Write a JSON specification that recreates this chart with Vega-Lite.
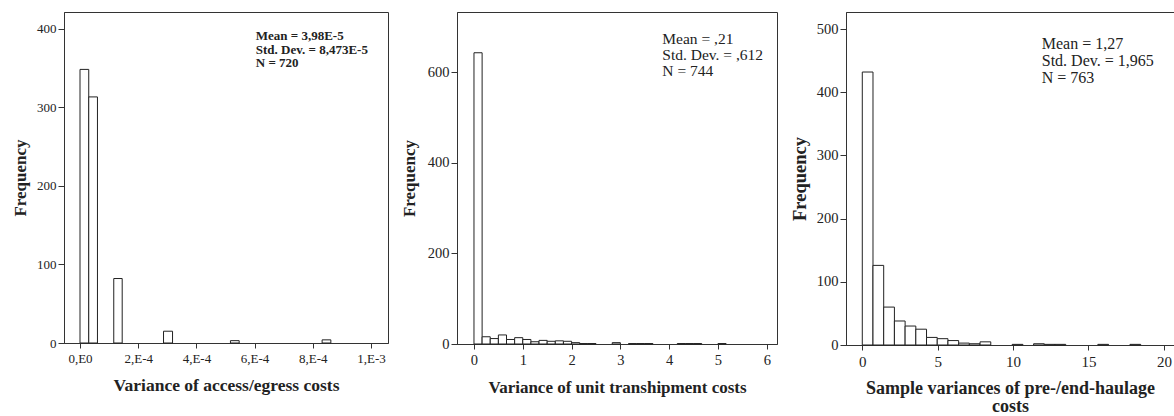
{
  "$schema": "https://vega.github.io/schema/vega-lite/v6.json",
  "padding": {"left": 11, "top": 11, "right": 0, "bottom": 0},
  "bounds": "flush",
  "spacing": 69,
  "config": {
    "font": "Liberation Serif",
    "view": {"stroke": "#333", "strokeWidth": 1},
    "axis": {
      "grid": false,
      "domainColor": "#333",
      "tickColor": "#333",
      "labelColor": "#222",
      "titleColor": "#222",
      "labelFont": "Liberation Serif",
      "titleFont": "Liberation Serif",
      "labelFontSize": 14,
      "titleFontSize": 17,
      "titleFontWeight": "bold",
      "labelPadding": 2
    },
    "axisX": {"tickSize": 5, "titlePadding": 10, "labelFlush": false, "labelPadding": 4},
    "axisY": {"tickSize": 6, "titlePadding": 7, "titleFontSize": 17}
  },
  "datasets": {
    "p1": [
      {"bin_start": 0.0, "bin_end": 0.00003, "count": 348},
      {"bin_start": 0.00003, "bin_end": 0.00006, "count": 313},
      {"bin_start": 0.000116, "bin_end": 0.000145, "count": 82},
      {"bin_start": 0.000287, "bin_end": 0.000318, "count": 15},
      {"bin_start": 0.000517, "bin_end": 0.000547, "count": 3},
      {"bin_start": 0.000832, "bin_end": 0.000862, "count": 4}
    ],
    "p2": [
      {"bin_start": 0.0, "bin_end": 0.1667, "count": 643},
      {"bin_start": 0.1667, "bin_end": 0.3333, "count": 16},
      {"bin_start": 0.3333, "bin_end": 0.5, "count": 12},
      {"bin_start": 0.5, "bin_end": 0.6667, "count": 20},
      {"bin_start": 0.6667, "bin_end": 0.8333, "count": 10},
      {"bin_start": 0.8333, "bin_end": 1.0, "count": 14},
      {"bin_start": 1.0, "bin_end": 1.1667, "count": 10},
      {"bin_start": 1.1667, "bin_end": 1.3333, "count": 5},
      {"bin_start": 1.3333, "bin_end": 1.5, "count": 8},
      {"bin_start": 1.5, "bin_end": 1.6667, "count": 6},
      {"bin_start": 1.6667, "bin_end": 1.8333, "count": 7},
      {"bin_start": 1.8333, "bin_end": 2.0, "count": 6},
      {"bin_start": 2.0, "bin_end": 2.1667, "count": 3},
      {"bin_start": 2.1667, "bin_end": 2.3333, "count": 1},
      {"bin_start": 2.3333, "bin_end": 2.5, "count": 1},
      {"bin_start": 2.8333, "bin_end": 3.0, "count": 3},
      {"bin_start": 3.1667, "bin_end": 3.3333, "count": 1},
      {"bin_start": 3.3333, "bin_end": 3.5, "count": 1},
      {"bin_start": 3.5, "bin_end": 3.6667, "count": 1},
      {"bin_start": 4.1667, "bin_end": 4.3333, "count": 1},
      {"bin_start": 4.3333, "bin_end": 4.5, "count": 1},
      {"bin_start": 4.5, "bin_end": 4.6667, "count": 1},
      {"bin_start": 5.0, "bin_end": 5.1667, "count": 1}
    ],
    "p3": [
      {"bin_start": 0.0, "bin_end": 0.71, "count": 432},
      {"bin_start": 0.71, "bin_end": 1.42, "count": 126},
      {"bin_start": 1.42, "bin_end": 2.13, "count": 60},
      {"bin_start": 2.13, "bin_end": 2.84, "count": 38},
      {"bin_start": 2.84, "bin_end": 3.55, "count": 30},
      {"bin_start": 3.55, "bin_end": 4.26, "count": 25},
      {"bin_start": 4.26, "bin_end": 4.97, "count": 12},
      {"bin_start": 4.97, "bin_end": 5.68, "count": 10},
      {"bin_start": 5.68, "bin_end": 6.39, "count": 7},
      {"bin_start": 6.39, "bin_end": 7.1, "count": 3},
      {"bin_start": 7.1, "bin_end": 7.81, "count": 2},
      {"bin_start": 7.81, "bin_end": 8.52, "count": 5},
      {"bin_start": 9.94, "bin_end": 10.65, "count": 1},
      {"bin_start": 11.36, "bin_end": 12.07, "count": 2},
      {"bin_start": 12.07, "bin_end": 12.78, "count": 1},
      {"bin_start": 12.78, "bin_end": 13.49, "count": 1},
      {"bin_start": 15.62, "bin_end": 16.33, "count": 1},
      {"bin_start": 17.75, "bin_end": 18.46, "count": 1}
    ]
  },
  "hconcat": [
    {
      "width": 324,
      "height": 331,
      "layer": [
        {
          "data": {"name": "p1"},
          "mark": {"type": "rect", "fill": "white", "stroke": "#222", "strokeWidth": 1},
          "encoding": {
            "x": {"field": "bin_start", "type": "quantitative",
              "scale": {"domain": [-0.000055, 0.0010584], "nice": false, "zero": false},
              "axis": {"title": "Variance of access/egress costs", "labelFontSize": 13, "titleFontSize": 17.5, "titlePadding": 11,
                "values": [0, 0.0002, 0.0004, 0.0006, 0.0008, 0.001],
                "labelExpr": "datum.value == 0 ? '0,E0' : (datum.value > 0.00095 ? '1,E-3' : round(datum.value * 10000) + ',E-4')"}},
            "x2": {"field": "bin_end"},
            "y": {"field": "count", "type": "quantitative",
              "scale": {"domain": [0, 421], "nice": false},
              "axis": {"title": "Frequency", "labelFontSize": 13, "values": [0, 100, 200, 300, 400]}},
            "y2": {"datum": 0}
          }
        },
        {
          "data": {"values": [{}]},
          "mark": {"type": "text", "align": "left", "baseline": "top", "fontSize": 13, "fontWeight": "bold", "lineHeight": 13.5, "color": "#222",
            "text": ["Mean = 3,98E-5", "Std. Dev. = 8,473E-5", "N = 720"]},
          "encoding": {
            "x": {"datum": 0.000604, "type": "quantitative"},
            "y": {"datum": 398, "type": "quantitative"}
          }
        }
      ]
    },
    {
      "width": 320,
      "height": 332,
      "layer": [
        {
          "data": {"name": "p2"},
          "mark": {"type": "rect", "fill": "white", "stroke": "#222", "strokeWidth": 1},
          "encoding": {
            "x": {"field": "bin_start", "type": "quantitative",
              "scale": {"domain": [-0.348, 6.21], "nice": false, "zero": false},
              "axis": {"title": "Variance of unit transhipment costs", "titleFontSize": 17, "titlePadding": 13, "labelFontSize": 14.5, "values": [0, 1, 2, 3, 4, 5, 6]}},
            "x2": {"field": "bin_end"},
            "y": {"field": "count", "type": "quantitative",
              "scale": {"domain": [0, 733], "nice": false},
              "axis": {"title": "Frequency", "labelFontSize": 14.5, "titlePadding": 9, "values": [0, 200, 400, 600]}},
            "y2": {"datum": 0}
          }
        },
        {
          "data": {"values": [{}]},
          "mark": {"type": "text", "align": "left", "baseline": "top", "fontSize": 15.5, "lineHeight": 16, "color": "#222",
            "text": ["Mean = ,21", "Std. Dev. = ,612", "N = 744"]},
          "encoding": {
            "x": {"datum": 3.86, "type": "quantitative"},
            "y": {"datum": 689, "type": "quantitative"}
          }
        }
      ]
    },
    {
      "width": 328,
      "height": 333,
      "layer": [
        {
          "data": {"name": "p3"},
          "mark": {"type": "rect", "fill": "white", "stroke": "#222", "strokeWidth": 1},
          "encoding": {
            "x": {"field": "bin_start", "type": "quantitative",
              "scale": {"domain": [-1.08, 20.67], "nice": false, "zero": false},
              "axis": {"title": ["Sample variances of pre-/end-haulage", "costs"], "titleFontSize": 18, "titleLineHeight": 18, "titlePadding": 10, "labelFontSize": 15, "values": [0, 5, 10, 15, 20]}},
            "x2": {"field": "bin_end"},
            "y": {"field": "count", "type": "quantitative",
              "scale": {"domain": [0, 527], "nice": false},
              "axis": {"title": "Frequency", "titleFontSize": 18.5, "labelFontSize": 14.5, "values": [0, 100, 200, 300, 400, 500]}},
            "y2": {"datum": 0}
          }
        },
        {
          "data": {"values": [{}]},
          "mark": {"type": "text", "align": "left", "baseline": "top", "fontSize": 16, "lineHeight": 17, "color": "#222",
            "text": ["Mean = 1,27", "Std. Dev. = 1,965", "N = 763"]},
          "encoding": {
            "x": {"datum": 11.9, "type": "quantitative"},
            "y": {"datum": 489, "type": "quantitative"}
          }
        }
      ]
    }
  ]
}
